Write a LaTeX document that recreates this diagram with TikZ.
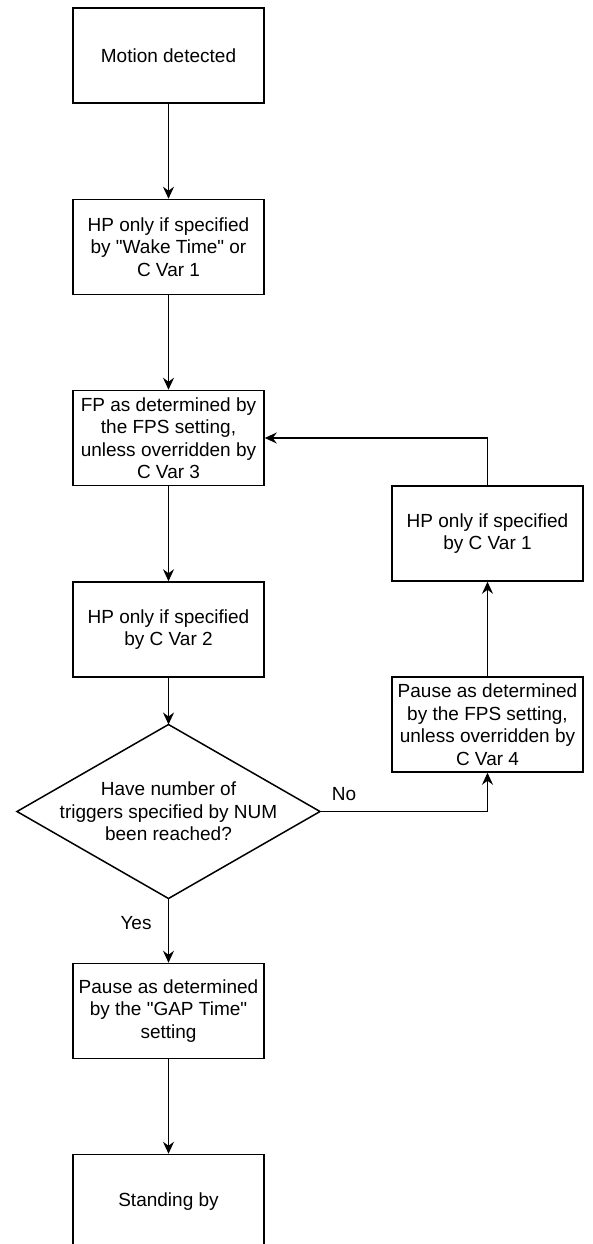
\documentclass[tikz,border=0pt]{standalone}
\usepackage{fontspec}
\setmainfont{Liberation Sans}[Ligatures=TeXOff]
\usetikzlibrary{arrows.meta}
\newcommand{\dq}{\symbol{34}}
\begin{document}
\begin{tikzpicture}[x=1pt,y=-1pt,
  every node/.style={font=\fontsize{19}{22.5}\selectfont, align=center, inner sep=0pt},
  procbox/.style={draw, line width=1.5pt, minimum width=191pt, minimum height=95pt},
  conn/.style={line width=1.5pt, -{Stealth[length=12pt,width=11pt,inset=4pt]}},
  lbl/.style={font=\fontsize{19}{22.5}\selectfont}
]
\useasboundingbox (0,0) rectangle (592,1244);
\fill[white] (0,0) rectangle (592,1244);

\node[procbox] (b1) at (168.5,55.5) {Motion detected};
\node[procbox] (b2) at (168.5,247) {HP only if specified\\by \dq Wake Time\dq{} or\\C Var 1};
\node[procbox] (b3) at (168.5,438) {FP as determined by\\the FPS setting,\\unless overridden by\\C Var 3};
\node[procbox] (b4) at (168.5,629.5) {HP only if specified\\by C Var 2};
\node (dec) at (168.5,811.5) {Have number of\\triggers specified by NUM\\been reached?};
\coordinate (dtop) at (168.5,724.5);
\coordinate (dright) at (320,811.5);
\coordinate (dbottom) at (168.5,898.5);
\coordinate (dleft) at (17,811.5);
\draw[line width=1.5pt, line join=miter] (dtop) -- (dright) -- (dbottom) -- (dleft) -- cycle;
\node[procbox] (b6) at (168.5,1011) {Pause as determined\\by the \dq GAP Time\dq\\setting};
\node[procbox] (b7) at (168.5,1202) {Standing by};
\node[procbox] (ba) at (487.5,533.5) {HP only if specified\\by C Var 1};
\node[procbox] (bb) at (487.5,724.5) {Pause as determined\\by the FPS setting,\\unless overridden by\\C Var 4};

\draw[conn] (b1) -- (b2);
\draw[conn] (b2) -- (b3);
\draw[conn] (b3) -- (b4);
\draw[conn] (b4) -- (dtop);
\draw[conn] (dbottom) -- (b6);
\draw[conn] (b6) -- (b7);
\draw[conn] (dright) -| (bb.south);
\draw[conn] (bb) -- (ba);
\draw[conn] (ba.north) |- (b3.east);

\node[lbl] (nolbl) at (344,794) {No};
\node[lbl] (yeslbl) at (136,923) {Yes};
\end{tikzpicture}
\end{document}
